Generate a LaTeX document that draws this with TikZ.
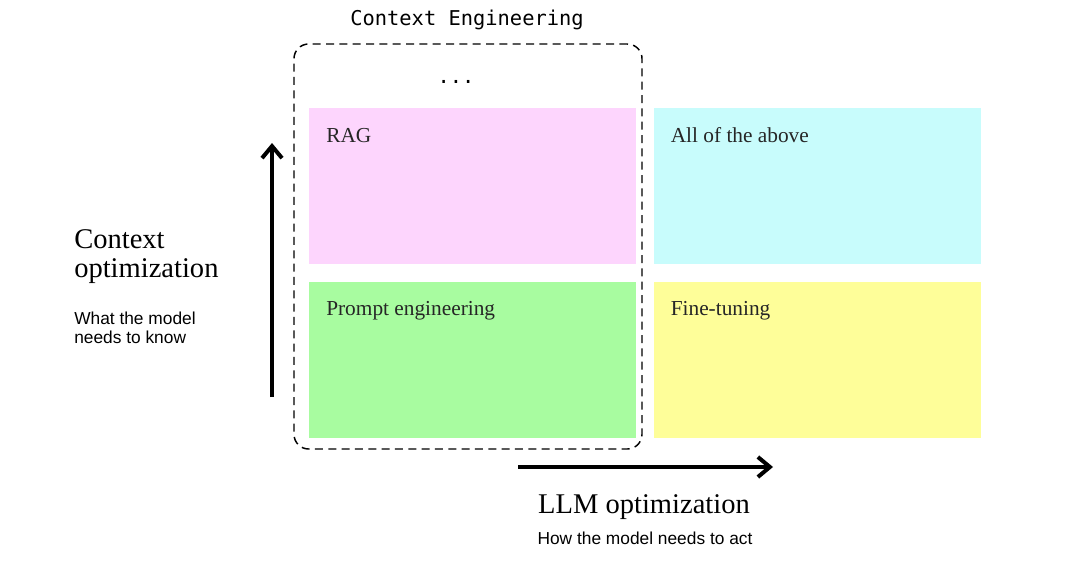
\documentclass[tikz,border=0pt]{standalone}
\usepackage{fontspec}
\setmainfont{Liberation Serif}
\setsansfont{Liberation Sans}
\setmonofont{DejaVu Sans Mono}
\usetikzlibrary{%
  positioning,
  arrows.meta,
}

\definecolor{ragpink}{HTML}{FDD5FD}
\definecolor{allcyan}{HTML}{C8FCFC}
\definecolor{promptgreen}{HTML}{A8FCA0}
\definecolor{tuneyellow}{HTML}{FEFE99}

\begin{document}
\begin{tikzpicture}[
    x=0.75pt, y=-0.75pt,
    every text node part/.style={align=left},
    node distance=12.75pt,
    quadrant/.style={
      % The shape:
      rectangle,
      inner sep=0pt,
      % The size:
      minimum width=245.25pt,
      minimum height=117pt,
      % no border, only a filling
      draw=none,
    },
    tag/.style={
      inner sep=0pt,
      font=\fontsize{16}{19}\selectfont,
      color=black!85,
    },
    axis/.style={
      line width=3pt,
      -{Straight Barb[length=9pt,width=15pt,line width=3pt]},
    },
    title/.style={
      inner sep=0pt,
      font=\fontsize{21.4}{21.75}\selectfont,
    },
    subtitle/.style={
      inner sep=0pt,
      font=\sffamily\fontsize{13}{14}\selectfont,
    },
  ]

    \useasboundingbox (0,0) rectangle (1080,567);

    % the four quadrants
    \node[quadrant, fill=ragpink, anchor=north west] (rag) at (309,108) {};
    \node[quadrant, fill=allcyan] (above) [right=of rag] {};
    \node[quadrant, fill=promptgreen] (prompt) [below=of rag] {};
    \node[quadrant, fill=tuneyellow] (tuning) [below=of above] {};

    \node[tag, anchor=base west] (ragtext) at ([shift={(17,34)}]rag.north west) {RAG};
    \node[tag, anchor=base west] (abovetext) at ([shift={(17,34)}]above.north west) {All of the above};
    \node[tag, anchor=base west] (prompttext) at ([shift={(17,34)}]prompt.north west) {Prompt engineering};
    \node[tag, anchor=base west] (tuningtext) at ([shift={(17,34)}]tuning.north west) {Fine-tuning};

    % dashed frame round the left column
    \node[draw, dash pattern=on 6pt off 4pt, line width=1.1pt,
          rounded corners=11pt, minimum width=261pt, minimum height=303.75pt,
          inner sep=0pt] (engineering) at (468,246.5) {};
    \node[font=\ttfamily\fontsize{15.3}{17}\selectfont, inner sep=0pt]
          (engtitle) at (467,20) {Context Engineering};
    \node[font=\ttfamily\fontsize{15.3}{17}\selectfont, inner sep=0pt]
          (dots) at (456,82) {...};

    % the two axes
    \coordinate (ctxfrom) at (272,397);
    \coordinate (ctxto) at (272,143);
    \coordinate (llmfrom) at (518,467);
    \coordinate (llmto) at (773,467);
    \draw[axis] (ctxfrom) -- (ctxto);
    \draw[axis] (llmfrom) -- (llmto);

    \node[title, anchor=base west] (ctxtitle) at (74,277) {Context \\ optimization};
    \node[subtitle, anchor=base west] (ctxsub) at (74,343) {What the model \\ needs to know};
    \node[title, anchor=base] (llmtitle) at (644,513) {LLM optimization};
    \node[subtitle, anchor=base] (llmsub) at (645,544) {How the model needs to act};
  \end{tikzpicture}
\end{document}
